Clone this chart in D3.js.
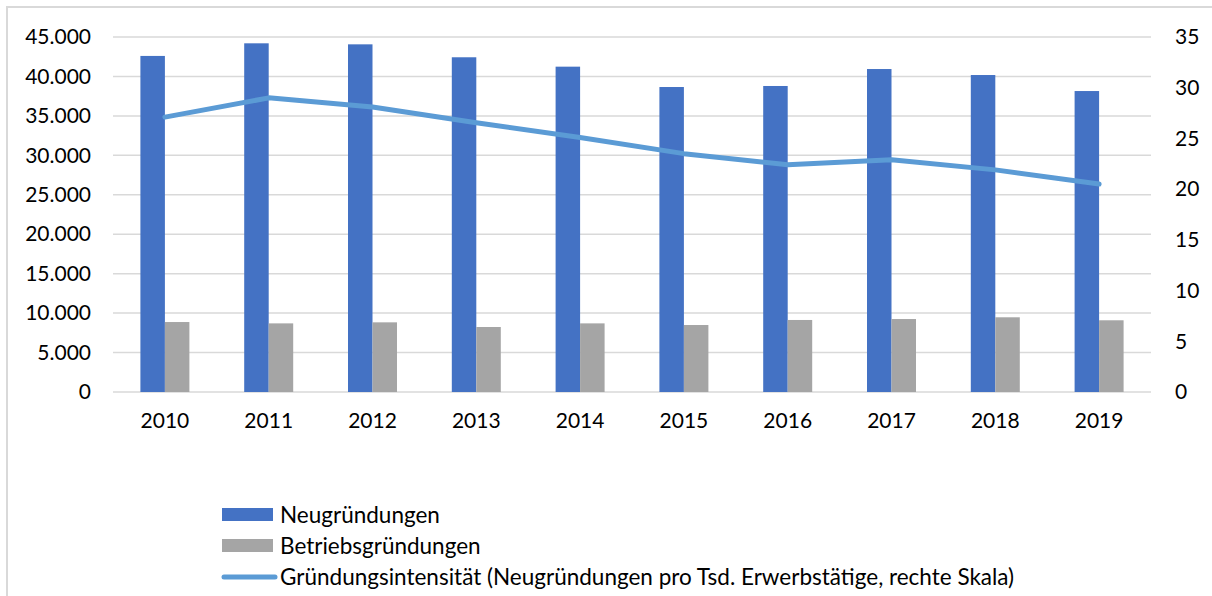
<!DOCTYPE html>
<html>
<head>
<meta charset="utf-8">
<script src="https://cdn.jsdelivr.net/npm/d3@7"></script>
<style>
  body { margin: 0; background: #fff; }
  svg { display: block; font-family: Lato, "Open Sans", sans-serif; }
  .grid line { stroke: #d9d9d9; stroke-width: 1.5; }
  .axis text { fill: #000; font-size: 21px; }
  .legend text { fill: #000; font-size: 22.5px; }
</style>
</head>
<body>
<div id="chart"></div>
<script>
(function(){

  // Werte
  var years = ['2010','2011','2012','2013','2014','2015','2016','2017','2018','2019'];
  var neugruendungen = [42600, 44200, 44070, 42430, 41240, 38660, 38790, 40940, 40180, 38150];
  var betriebsgruendungen = [8870, 8700, 8830, 8240, 8700, 8490, 9130, 9250, 9470, 9090];
  var intensitaet = [27.1, 29.0, 28.1, 26.55, 25.1, 23.5, 22.4, 22.9, 21.9, 20.5];

  var leftTicks = [0, 5000, 10000, 15000, 20000, 25000, 30000, 35000, 40000, 45000];
  var rightTicks = [0, 5, 10, 15, 20, 25, 30, 35];

  var seriesNames = ['Neugründungen', 'Betriebsgründungen',
    'Gründungsintensität (Neugründungen pro Tsd. Erwerbstätige, rechte Skala)'];
  var colors = ['#4472c4', '#a5a5a5', '#5b9bd5'];

  var W = 1212, H = 596;
  var plot = { left: 113, right: 1151, top: 37, bottom: 392 };

  var de = d3.formatLocale({ decimal: ',', thousands: '.', grouping: [3], currency: ['', ' €'] });
  var fmt = de.format(',');

  var x = d3.scaleBand().domain(years)
        .range([plot.left, plot.right])
        .paddingInner(0.528).paddingOuter(0.264);
  var xSub = d3.scaleBand().domain([0, 1]).range([0, x.bandwidth()]);

  var yL = d3.scaleLinear().domain([0, 45000]).range([plot.bottom, plot.top]);
  var yR = d3.scaleLinear().domain([0, 35]).range([plot.bottom, plot.top]);

  var svg = d3.select('#chart').append('svg')
        .attr('width', W).attr('height', H);

  // Rahmen (nur links und oben sichtbar)
  svg.append('path')
    .attr('d', 'M7,' + H + 'V7H' + W)
    .attr('fill', 'none')
    .attr('stroke', '#d9d9d9')
    .attr('stroke-width', 2);

  // Gitternetz
  svg.append('g').attr('class', 'grid')
    .selectAll('line').data(leftTicks).enter().append('line')
      .attr('x1', plot.left).attr('x2', plot.right)
      .attr('y1', function(d){ return yL(d); })
      .attr('y2', function(d){ return yL(d); });

  // Achsen
  var axL = svg.append('g').attr('class', 'axis')
    .attr('transform', 'translate(' + 91 + ',0)')
    .call(d3.axisLeft(yL).tickValues(leftTicks).tickFormat(fmt).tickSize(0).tickPadding(0));
  var axR = svg.append('g').attr('class', 'axis')
    .attr('transform', 'translate(' + 1175 + ',0)')
    .call(d3.axisRight(yR).tickValues(rightTicks).tickSize(0).tickPadding(0));
  var axX = svg.append('g').attr('class', 'axis')
    .attr('transform', 'translate(0,' + 409 + ')')
    .call(d3.axisBottom(x).tickSize(0).tickPadding(0));
  [axL, axR, axX].forEach(function(a){
    a.select('.domain').remove();
    a.selectAll('text').attr('font-family', null).attr('font-size', null);
    a.attr('font-family', null).attr('font-size', null);
  });
  axX.selectAll('text').attr('dy', '0.9em');

  // Säulen
  var groups = svg.append('g').selectAll('g').data(years).enter().append('g')
    .attr('transform', function(d){ return 'translate(' + x(d) + ',0)'; });

  groups.append('rect')
    .attr('x', xSub(0)).attr('width', xSub.bandwidth())
    .attr('y', function(d, i){ return yL(neugruendungen[i]); })
    .attr('height', function(d, i){ return yL(0) - yL(neugruendungen[i]); })
    .attr('fill', colors[0]);

  groups.append('rect')
    .attr('x', xSub(1)).attr('width', xSub.bandwidth())
    .attr('y', function(d, i){ return yL(betriebsgruendungen[i]); })
    .attr('height', function(d, i){ return yL(0) - yL(betriebsgruendungen[i]); })
    .attr('fill', colors[1]);

  // Linie (rechte Skala)
  var line = d3.line()
    .x(function(d, i){ return x(years[i]) + x.bandwidth() / 2; })
    .y(function(d){ return yR(d); });

  svg.append('path')
    .datum(intensitaet)
    .attr('d', line)
    .attr('fill', 'none')
    .attr('stroke', colors[2])
    .attr('stroke-width', 5)
    .attr('stroke-linecap', 'round')
    .attr('stroke-linejoin', 'round');

  // Legende
  var legend = svg.append('g').attr('class', 'legend')
    .attr('transform', 'translate(222,515)');
  var item = legend.selectAll('g').data(seriesNames).enter().append('g')
    .attr('transform', function(d, i){ return 'translate(0,' + i * 31 + ')'; });

  item.filter(function(d, i){ return i < 2; }).append('rect')
    .attr('x', 0).attr('y', -7).attr('width', 51).attr('height', 13)
    .attr('fill', function(d, i){ return colors[i]; });
  item.filter(function(d, i){ return i === 2; }).append('line')
    .attr('x1', 2).attr('x2', 53).attr('y1', 0).attr('y2', 0)
    .attr('stroke', colors[2]).attr('stroke-width', 5)
    .attr('stroke-linecap', 'round');

  item.append('text')
    .attr('x', 58).attr('dy', '0.35em')
    .text(function(d){ return d; });

})();
</script>
</body>
</html>
